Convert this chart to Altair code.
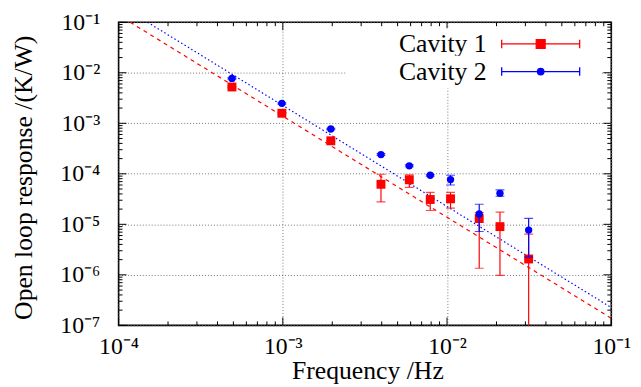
import altair as alt
import pandas as pd

# ---------------- data ----------------
FREQ = [4.9e-4, 9.87e-4, 1.96e-3, 3.96e-3, 5.89e-3, 7.9e-3, 1.05e-2, 1.57e-2, 2.1e-2, 3.14e-2]

CAV1 = [5.23e-3, 1.58e-3, 4.5e-4, 6.2e-5, 7.6e-5, 3.1e-5, 3.2e-5, 1.3e-5, 9.0e-6, 2.06e-6]
CAV1_LO = [5.1e-3, 1.54e-3, 4.4e-4, 2.78e-5, 5.4e-5, 1.88e-5, 2.09e-5, 1.35e-6, 9.8e-7, 5e-8]
CAV1_HI = [5.4e-3, 1.62e-3, 4.6e-4, 9.8e-5, 9.5e-5, 4.28e-5, 4.28e-5, 1.7e-5, 1.74e-5, 6.4e-6]

CAV2 = [7.73e-3, 2.48e-3, 7.7e-4, 2.4e-4, 1.44e-4, 9.35e-5, 7.7e-5, 1.6e-5, 4.1e-5, 7.7e-6]
CAV2_LO = [7.5e-3, 2.4e-3, 7.5e-4, 2.3e-4, 1.38e-4, 9.0e-5, 6.0e-5, 7.2e-6, 3.6e-5, 2.25e-6]
CAV2_HI = [7.9e-3, 2.55e-3, 7.9e-4, 2.5e-4, 1.5e-4, 9.7e-5, 9.35e-5, 2.5e-5, 4.8e-5, 1.31e-5]

# fitted f^-2 lines: end points
FIT1_F = [1.176e-4, 0.1]
FIT1_Y = [0.1, 1.38e-7]
FIT2_F = [1.5e-4, 0.1]
FIT2_Y = [0.1, 2.25e-7]

SERIES = ["Cavity 1", "Cavity 2"]
COLORS = ["#ff0000", "#0000ff"]

X_TICKS = [1e-4, 1e-3, 1e-2, 1e-1]
X_TICK_LABELS = ["10⁻⁴", "10⁻³", "10⁻²", "10⁻¹"]
Y_TICKS = [1e-7, 1e-6, 1e-5, 1e-4, 1e-3, 1e-2, 1e-1]
Y_TICK_LABELS = ["10⁻⁷", "10⁻⁶", "10⁻⁵", "10⁻⁴", "10⁻³", "10⁻²", "10⁻¹"]
MINOR_MULT = [2, 3, 4, 5, 6, 7, 8, 9]

# ---------------- tables ----------------
pts = pd.DataFrame({
    "f": FREQ + FREQ,
    "y": CAV1 + CAV2,
    "lo": CAV1_LO + CAV2_LO,
    "hi": CAV1_HI + CAV2_HI,
    "series": [SERIES[0]] * len(FREQ) + [SERIES[1]] * len(FREQ),
})
fits = pd.DataFrame({
    "f": FIT1_F + FIT2_F,
    "y": FIT1_Y + FIT2_Y,
    "series": [SERIES[0]] * 2 + [SERIES[1]] * 2,
})
x_major = pd.DataFrame({"f": X_TICKS})
x_minor = pd.DataFrame({"f": [d * m for d in X_TICKS[:-1] for m in MINOR_MULT]})
y_major = pd.DataFrame({"y": Y_TICKS})
y_minor = pd.DataFrame({"y": [d * m for d in Y_TICKS[:-1] for m in MINOR_MULT]})

W, H = 499, 307
FONT = "Liberation Serif"
TICK_FS = 24
TITLE_FS = 26
LEGEND_FS = 26


def label_expr(values, labels):
    expr = f"'{labels[-1]}'"
    for v, lab in reversed(list(zip(values[:-1], labels[:-1]))):
        expr = f"datum.value < {v * 3.1623:.4g} ? '{lab}' : " + expr
    return expr


xscale = alt.Scale(type="log", domain=[X_TICKS[0], X_TICKS[-1]], nice=False)
yscale = alt.Scale(type="log", domain=[Y_TICKS[0], Y_TICKS[-1]], nice=False)

xaxis = alt.Axis(values=X_TICKS, labelExpr=label_expr(X_TICKS, X_TICK_LABELS),
                 title="Frequency /Hz", grid=True, ticks=False, domain=False,
                 labelPadding=10, labelFlush=False,
                 titleX=252, titleY=54, titleBaseline="alphabetic")
yaxis = alt.Axis(values=Y_TICKS, labelExpr=label_expr(Y_TICKS, Y_TICK_LABELS),
                 title="Open loop response /(K/W)", grid=True, ticks=False, domain=False,
                 labelPadding=19, labelFlush=False,
                 titleX=-88, titleY=157, titleBaseline="alphabetic")


def X(field="f"):
    return alt.X(f"{field}:Q", scale=xscale, axis=xaxis)


def Y(field="y"):
    return alt.Y(f"{field}:Q", scale=yscale, axis=yaxis)


# legend symbols: error-bar + marker drawn as custom paths (10 px per unit)
BOUNDS = "M-1,-1.1L-1,-1.1M23.6,1.1L23.6,1.1"
BAR = "M14.2,0L22.1,0M14.2,-0.43L14.2,0.43M22.1,-0.43L22.1,0.43"
SQUARE = "M17.7,-0.45L18.6,-0.45L18.6,0.45L17.7,0.45Z"
CIRCLE = "M17.82,0A0.33,0.33,0,1,0,18.48,0A0.33,0.33,0,1,0,17.82,0Z"
PATHS = [BOUNDS + BAR + SQUARE, BOUNDS + BAR + CIRCLE]
LEGEND_Y = [6, 34]


def legend(i):
    return alt.Legend(
        title=None, orient="none", legendX=230, legendY=LEGEND_Y[i],
        fillColor="white", padding=3, symbolSize=400, symbolOffset=0,
        labelOffset=25, labelFont=FONT, labelFontSize=LEGEND_FS, labelColor="black",
        symbolType=PATHS[i], symbolStrokeColor=COLORS[i], symbolStrokeWidth=1.3,
        symbolFillColor=COLORS[i], symbolOpacity=1,
    )


layers = []

# fitted lines
fit_styles = [[4, 4], [1.5, 2.5]]
for s, c, dash in zip(SERIES, COLORS, fit_styles):
    layers.append(
        alt.Chart(fits).transform_filter(alt.datum.series == s)
        .mark_line(color=c, strokeDash=dash, strokeWidth=1.2, clip=True)
        .encode(x=X(), y=Y())
    )

# error bars + points per series (blue drawn over red)
shapes = ["square", "circle"]
sizes = [81, 55]
for i, (s, c, shp, sz) in enumerate(zip(SERIES, COLORS, shapes, sizes)):
    base = alt.Chart(pts).transform_filter(alt.datum.series == s)
    layers.append(base.mark_rule(color=c, strokeWidth=1.2, clip=True)
                  .encode(x=X(), y=Y("lo"), y2="hi:Q"))
    layers.append(base.mark_tick(color=c, orient="horizontal", size=9, thickness=1.2, clip=True)
                  .encode(x=X(), y=Y("lo")))
    layers.append(base.mark_tick(color=c, orient="horizontal", size=9, thickness=1.2, clip=True)
                  .encode(x=X(), y=Y("hi")))
    layers.append(base.mark_point(filled=True, shape=shp, size=sz, opacity=1)
                  .encode(x=X(), y=Y(),
                          color=alt.Color("series:N",
                                          scale=alt.Scale(domain=[s], range=[c]),
                                          legend=legend(i))))

# inward ticks on all four sides
for df, ln in [(x_major, 8), (x_minor, 4)]:
    layers.append(alt.Chart(df).mark_rule(color="black", strokeWidth=1)
                  .encode(x=X(), y=alt.value(H), y2=alt.value(H - ln)))
    layers.append(alt.Chart(df).mark_rule(color="black", strokeWidth=1)
                  .encode(x=X(), y=alt.value(0), y2=alt.value(ln)))
for df, ln in [(y_major, 8), (y_minor, 4)]:
    layers.append(alt.Chart(df).mark_rule(color="black", strokeWidth=1)
                  .encode(y=Y(), x=alt.value(0), x2=alt.value(ln)))
    layers.append(alt.Chart(df).mark_rule(color="black", strokeWidth=1)
                  .encode(y=Y(), x=alt.value(W), x2=alt.value(W - ln)))

chart = alt.layer(*layers).resolve_scale(color="independent").properties(
    width=W, height=H,
    autosize=alt.AutoSizeParams(type="none"),
    padding={"left": 112, "top": 12, "right": 22, "bottom": 60},
).configure_view(
    stroke="black", strokeWidth=1.6
).configure_axis(
    labelFont=FONT, labelFontSize=TICK_FS, labelColor="black",
    titleFont=FONT, titleFontSize=TITLE_FS, titleFontWeight="normal", titleColor="black",
    gridColor="#777777", gridDash=[1, 2], gridWidth=1, gridOpacity=1,
).configure_legend(
    labelFont=FONT, labelFontSize=LEGEND_FS, labelColor="black"
)

chart.save("out.html", embed_options={"renderer": "svg", "actions": False})
